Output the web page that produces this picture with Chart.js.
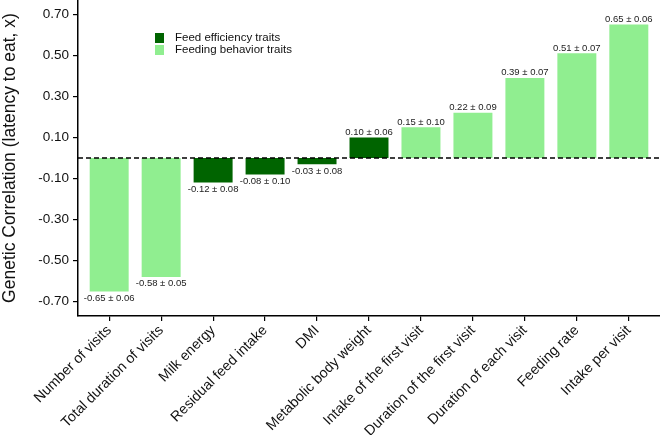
<!DOCTYPE html>
<html>
<head>
<meta charset="utf-8">
<script src="https://cdn.jsdelivr.net/npm/chart.js@4.4.1/dist/chart.umd.min.js"></script>
<style>
  html, body { margin: 0; padding: 0; background: #fff; }
  #wrap { width: 660px; height: 435px; position: relative; }
</style>
</head>
<body>
<div id="wrap"><canvas id="chart"></canvas></div>
<script>
// --- data ---
const traits = [
  "Number of visits", "Total duration of visits", "Milk energy", "Residual feed intake",
  "DMI", "Metabolic body weight", "Intake of the first visit", "Duration of the first visit",
  "Duration of each visit", "Feeding rate", "Intake per visit"
];
const correlations = [-0.65, -0.58, -0.12, -0.08, -0.03, 0.10, 0.15, 0.22, 0.39, 0.51, 0.65];
const stdErrors = [0.06, 0.05, 0.08, 0.10, 0.08, 0.06, 0.10, 0.09, 0.07, 0.07, 0.06];
// 0 = feeding behavior, 1 = feed efficiency
const traitGroup = [0, 0, 1, 1, 1, 1, 0, 0, 0, 0, 0];
const groupNames = ["Feeding behavior traits", "Feed efficiency traits"];
const yTicks = [-0.70, -0.50, -0.30, -0.10, 0.10, 0.30, 0.50, 0.70];
const yTitle = "Genetic Correlation (latency to eat, x)";

const groupColors = ["#90EE90", "#006400"];
const FONT = "'Liberation Sans', Arial, sans-serif";

// ラベル (値 ± SE) をバーの上/下に描く
const barLabels = {
  id: "barLabels",
  afterDatasetsDraw(chart) {
    const ctx = chart.ctx;
    const meta = chart.getDatasetMeta(0);
    ctx.save();
    ctx.font = "9.5px " + FONT;
    ctx.fillStyle = "#222";
    ctx.textAlign = "center";
    meta.data.forEach((bar, i) => {
      const v = correlations[i];
      const txt = v.toFixed(2) + " \u00b1 " + stdErrors[i].toFixed(2);
      if (v >= 0) {
        ctx.textBaseline = "bottom";
        ctx.fillText(txt, bar.x, bar.y - 0.5);
      } else {
        ctx.textBaseline = "top";
        ctx.fillText(txt, bar.x, bar.y + 2);
      }
    });

    // 0 の破線
    const y0 = chart.scales.y.getPixelForValue(0);
    ctx.strokeStyle = "#000";
    ctx.lineWidth = 1.4;
    ctx.setLineDash([5, 3]);
    ctx.beginPath();
    ctx.moveTo(chart.chartArea.left, y0);
    ctx.lineTo(chart.chartArea.right, y0);
    ctx.stroke();
    ctx.setLineDash([]);

    // 凡例
    const lx = 155, ly = 33;
    const order = [1, 0];
    ctx.font = "11.5px " + FONT;
    ctx.textAlign = "left";
    ctx.textBaseline = "middle";
    order.forEach((g, k) => {
      const y = ly + k * 12;
      ctx.fillStyle = groupColors[g];
      ctx.fillRect(lx, y, 9, 10);
      ctx.fillStyle = "#111";
      ctx.fillText(groupNames[g], lx + 20, y + 5);
    });
    ctx.restore();
  }
};

const chart = new Chart(document.getElementById("chart"), {
  type: "bar",
  data: {
    datasets: [{
      data: correlations.map((v, i) => ({ x: i + 1, y: v })),
      backgroundColor: traitGroup.map(g => groupColors[g]),
      borderWidth: 0,
      barPercentage: 0.75,
      categoryPercentage: 1.0
    }]
  },
  options: {
    responsive: true,
    maintainAspectRatio: false,
    animation: false,
    layout: { padding: 0 },
    plugins: {
      legend: { display: false },
      tooltip: { enabled: false }
    },
    scales: {
      x: {
        type: "linear",
        offset: false,
        min: 0.4,
        max: 11.6,
        afterBuildTicks: (scale) => {
          scale.ticks = traits.map((_, i) => ({ value: i + 1 }));
        },
        afterFit: (scale) => {
          scale.height = 119;
          scale.paddingLeft = 0;
          scale.paddingRight = 0;
        },
        ticks: {
          autoSkip: false,
          minRotation: 45,
          maxRotation: 45,
          padding: 1,
          color: "#111",
          font: { family: FONT, size: 14.3 },
          callback: (v) => traits[Math.round(v) - 1] || ""
        },
        grid: { drawOnChartArea: false, offset: false, tickLength: 5, color: "#000", lineWidth: 1.2 },
        border: { color: "#000", width: 1.5 }
      },
      y: {
        min: -0.77,
        max: 0.77,
        afterBuildTicks: (scale) => {
          scale.ticks = yTicks.map(v => ({ value: v }));
        },
        afterFit: (scale) => {
          scale.width = 78;
          scale.paddingTop = 0;
          scale.paddingBottom = 0;
        },
        ticks: {
          color: "#111",
          font: { family: FONT, size: 13.5 },
          padding: 4,
          callback: (v) => v.toFixed(2)
        },
        grid: { drawOnChartArea: false, tickLength: 5, color: "#000", lineWidth: 1.2 },
        border: { color: "#000", width: 1.5 },
        title: {
          display: true,
          text: yTitle,
          color: "#111",
          font: { family: FONT, size: 17.5 },
          padding: { top: 0, bottom: 0 }
        }
      }
    }
  },
  plugins: [barLabels]
});
</script>
</body>
</html>
